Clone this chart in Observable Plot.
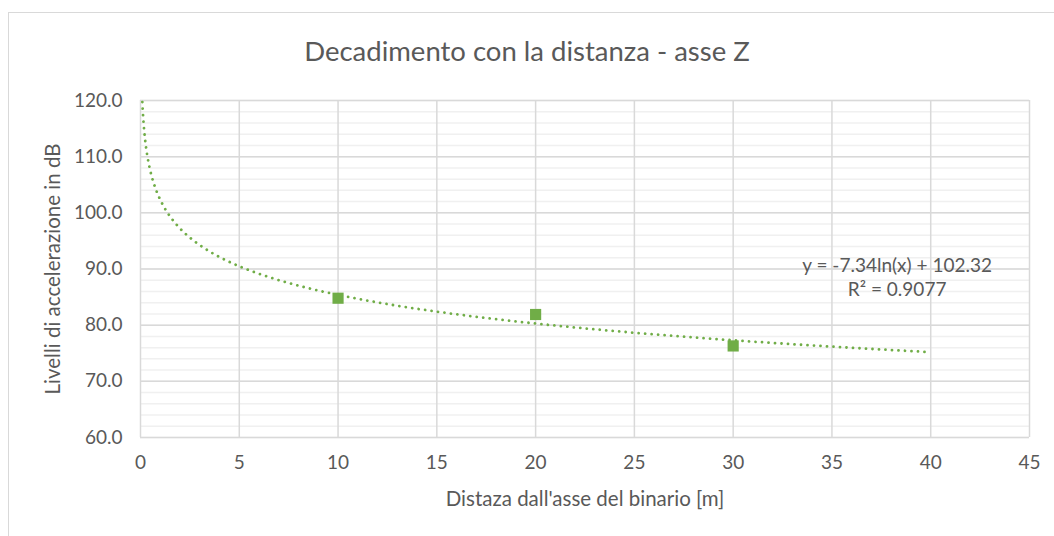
<!DOCTYPE html>
<html>
<head>
<meta charset="utf-8">
<script src="https://cdn.jsdelivr.net/npm/d3@7"></script>
<script src="https://cdn.jsdelivr.net/npm/@observablehq/plot@0.6"></script>
<style>
  html, body { margin: 0; padding: 0; background: #fff; overflow: hidden; width: 1054px; height: 536px; }
  #frame { position: absolute; left: 8px; top: 12px; width: 1200px; height: 700px; border: 1px solid #d9d9d9; box-sizing: border-box; }
  #title { position: absolute; left: 0; width: 1054px; top: 33px; text-align: center; font-family: Lato, sans-serif; font-size: 27.5px; color: #595959; line-height: 36px; }
  #chart { position: absolute; left: 0; top: 70px; }
</style>
</head>
<body>
<div id="frame"></div>
<div id="title">Decadimento con la distanza - asse Z</div>
<div id="chart"></div>
<script>
// Data
const distances = [10, 20, 30];              // m
const levels = [84.8, 81.9, 76.3];           // dB
const xTicks = [0, 5, 10, 15, 20, 25, 30, 35, 40, 45];
const yTicks = [60, 70, 80, 90, 100, 110, 120];
const yMinorTicks = d3.range(60, 121, 2);
const equationText = "y = -7.34ln(x) + 102.32";
const r2Text = "R² = 0.9077";
const trendRange = [0.05, 40];

const points = distances.map((d, i) => ({x: d, y: levels[i]}));

// Logarithmic least-squares fit (as Excel's trendline)
const lx = distances.map(Math.log);
const mx = d3.mean(lx), my = d3.mean(levels);
const slope = d3.sum(lx.map((v, i) => (v - mx) * (levels[i] - my))) / d3.sum(lx.map(v => (v - mx) ** 2));
const intercept = my - slope * mx;
const trend = d3.range(0, 401).map(i => {
  const x = trendRange[0] * Math.pow(trendRange[1] / trendRange[0], i / 400);
  return {x, y: slope * Math.log(x) + intercept};
});

const green = "#70ad47";
const textColor = "#595959";

const chart = Plot.plot({
  width: 1054,
  height: 466,
  marginLeft: 140,
  marginRight: 25,
  marginTop: 30,
  marginBottom: 99,
  style: {fontFamily: "Lato, sans-serif", fontSize: "19px", color: textColor, background: "transparent"},
  x: {domain: [0, 45], ticks: xTicks},
  y: {domain: [60, 120], ticks: yTicks},
  marks: [
    Plot.ruleY(yMinorTicks, {stroke: "#f0f0f0", strokeWidth: 1.5}),
    Plot.ruleY(yTicks, {stroke: "#d9d9d9", strokeWidth: 1.5}),
    Plot.ruleX(xTicks, {stroke: "#d9d9d9", strokeWidth: 1.5}),
    Plot.axisX({ticks: xTicks, tickSize: 0, tickPadding: 18, fontSize: 19, label: null}),
    Plot.axisX({ticks: [], tickSize: 0, fontSize: 20.5, label: "Distaza dall'asse del binario [m]", labelAnchor: "center", labelArrow: "none", labelOffset: 68}),
    Plot.axisY({ticks: yTicks, tickSize: 0, tickPadding: 18, fontSize: 19, tickFormat: d3.format(".1f"), label: null}),
    Plot.axisY({ticks: [], tickSize: 0, fontSize: 20.5, label: "Livelli di accelerazione in dB", labelAnchor: "center", labelArrow: "none", labelOffset: 95}),
    Plot.line(trend, {x: "x", y: "y", stroke: green, strokeWidth: 2.8, strokeDasharray: "0.01 6.5", strokeLinecap: "round", clip: true}),
    Plot.dot(points, {x: "x", y: "y", symbol: "square", r: 6.3, fill: green, stroke: "none"}),
    Plot.text([{x: 38.3, y: 90.6, t: equationText}, {x: 38.3, y: 86.2, t: r2Text}], {x: "x", y: "y", text: "t", fill: textColor, fontSize: 19, textAnchor: "middle"})
  ]
});
document.getElementById("chart").appendChild(chart);
</script>
</body>
</html>
